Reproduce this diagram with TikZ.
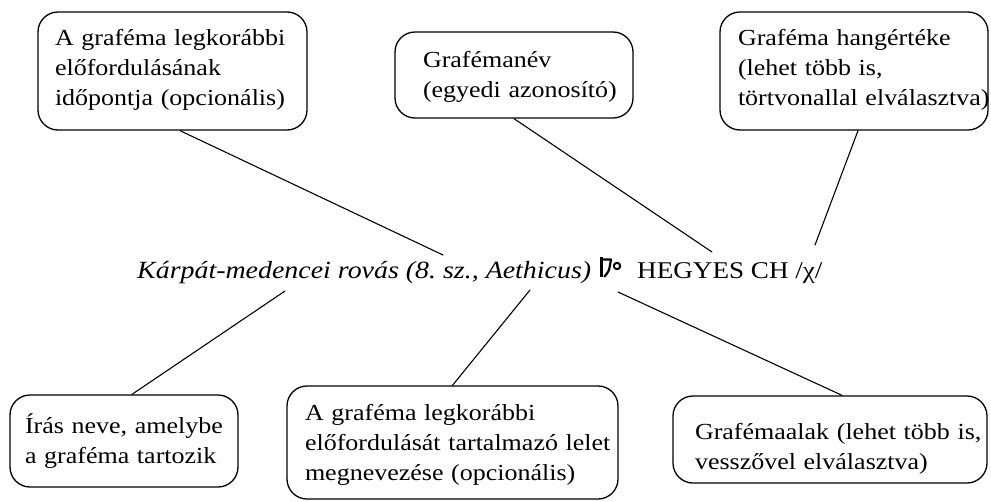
\documentclass[tikz,border=0pt]{standalone}
\usepackage{fontspec}
\setmainfont{Liberation Serif}[FakeStretch=1.13]
\begin{document}
\begin{tikzpicture}[x=1pt,y=-1pt,line join=round,line cap=round,font=\fontsize{23}{30}\selectfont]
	\tikzset{box/.style={draw,line width=1.3pt,rounded corners=20pt,align=left,inner ysep=0pt,
		execute at begin node={\hyphenpenalty=10000\exhyphenpenalty=10000}}}
	\tikzset{link/.style={line width=1.1pt}}
	\useasboundingbox (0,0) rectangle (991,501);
	% felso dobozok
	\node[box,text height=33pt,text depth=85pt,inner xsep=17pt,text width=235pt] (kor) at (172.5,71) {A~graféma~legkorábbi\\előfordulásának\\időpontja~(opcionális)};
	\node[box,text height=35pt,text depth=51pt,inner xsep=28pt,text width=182pt] (nev) at (514,75) {Grafémanév\\(egyedi~azonosító)};
	\node[box,text height=33pt,text depth=85pt,inner xsep=18pt,text width=232pt] (hang) at (854,71) {Graféma~hangértéke\\(lehet~több~is,\\törtvonallal~elválasztva)};
	% also dobozok
	\node[box,text height=38pt,text depth=54pt,inner xsep=15pt,text width=198pt] (irasnev) at (124,441) {Írás~neve,~amelybe\\a~graféma~tartozik};
	\node[box,text height=34pt,text depth=79pt,inner xsep=18pt,text width=295pt] (lelet) at (452.5,442.5) {A~graféma~legkorábbi\\előfordulását~tartalmazó~lelet\\megnevezése~(opcionális)};
	\node[box,text height=43pt,text depth=44pt,inner xsep=22pt,text width=270pt] (alak) at (830,439.5) {Grafémaalak~(lehet~több~is,\\vesszővel~elválasztva)};
	% kozepso sor
	\node[anchor=base west,inner sep=0pt,font=\fontsize{24.7}{30}\selectfont\itshape] (iras) at (137,278) {Kárpát-medencei rovás (8.~sz., Aethicus)};
	\node[anchor=base west,inner sep=0pt,font=\fontsize{24}{30}\selectfont] (betu) at (637,278) {HEGYES CH /χ/};
	% rovasjel
	\draw[line width=2.2pt,line cap=butt] (601.5,257) -- (601.5,277);
	\draw[line width=2.2pt] (601.5,259.5) -- (611,259.5) -- (610,265) .. controls (609,271) .. (604.5,276.5);
	\draw[line width=2pt] (617,266) circle (3.2pt);
	% vonalak vegpontjai
	\coordinate (e1) at (443,255);
	\coordinate (e2) at (712,252);
	\coordinate (e3) at (815,245);
	\coordinate (e4) at (285,291);
	\coordinate (e5) at (530,290);
	\coordinate (e6) at (618,292);
	\draw[link] ([xshift=7.5pt]kor.south) -- (e1);
	\draw[link] (nev.south) -- (e2);
	\draw[link] ([xshift=4pt]hang.south) -- (e3);
	\draw[link] (e4) -- ([xshift=8pt]irasnev.north);
	\draw[link] (e5) -- (lelet.north);
	\draw[link] (e6) -- ([xshift=12pt]alak.north);
\end{tikzpicture}
\end{document}
